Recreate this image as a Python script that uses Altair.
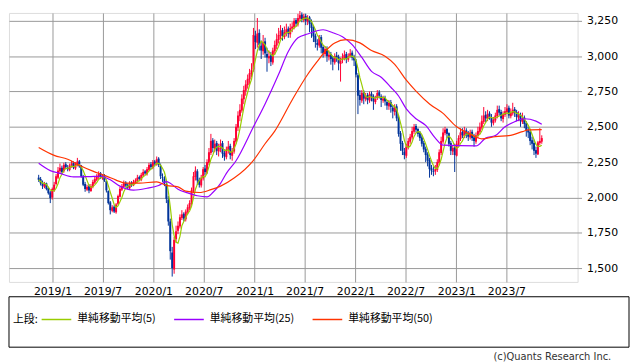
import altair as alt
import numpy as np
import pandas as pd

# ---------------- data (weekly candles) ----------------
start_date = "2018-11-12"

closes = [
    2125, 2100, 2080, 2095, 2060, 2030, 1995,
    2060, 2090, 2150, 2190, 2210,
    2180, 2230, 2215, 2200, 2225, 2240, 2210, 2235, 2255,
    2220, 2150, 2090, 2060, 2075, 2050, 2080,
    2110, 2130, 2150, 2165, 2140, 2150, 2120, 2050,
    1960, 1910, 1930, 1900, 1950,
    2010, 2060, 2080, 2100, 2085, 2070, 2100, 2090, 2110,
    2120, 2140, 2130, 2160, 2180, 2170,
    2200, 2230, 2215, 2250, 2240, 2270,
    2230, 2150, 2140, 2100, 1990,
    1830, 1620, 1500, 1700, 1760,
    1800, 1860, 1880, 1850, 1900, 1930,
    1960, 2050, 2150, 2190, 2120,
    2090, 2140, 2200, 2180,
    2250, 2320, 2400, 2350, 2380, 2330,
    2350, 2380, 2310, 2290, 2340, 2360, 2300, 2330, 2400,
    2500, 2580, 2620, 2700, 2760, 2800, 2840, 2880, 2900,
    3150,
    3100, 3160, 3080, 3040, 3100, 3020, 2990, 3000, 2960,
    3040, 3080, 3120, 3150, 3180, 3140, 3170, 3190, 3160, 3200,
    3210, 3250, 3230, 3270, 3290, 3260, 3280, 3250, 3270, 3230,
    3200, 3140, 3100, 3080, 3130, 3060, 3020, 3050, 3000, 3010,
    2980, 2960, 3000, 2990, 2950, 2970, 2990, 3010, 2980, 3000, 3020, 2990, 2970,
    2870, 2720, 2690, 2740,
    2700, 2720, 2690, 2730, 2710, 2680, 2700, 2740, 2720, 2690, 2700, 2680, 2650, 2670, 2640, 2610, 2640,
    2560, 2450, 2380, 2330, 2300, 2360,
    2400, 2430, 2470, 2500, 2480, 2450, 2420,
    2380, 2340, 2300, 2260, 2200, 2190, 2180,
    2200, 2250, 2320, 2400, 2460, 2480, 2450,
    2380, 2330, 2350, 2300, 2380,
    2420, 2460, 2440, 2470, 2450, 2430, 2460, 2420, 2400, 2440, 2470,
    2500, 2540, 2580, 2560, 2590, 2570, 2530, 2550, 2580,
    2620, 2600, 2560, 2590, 2610, 2630, 2580, 2600, 2620, 2600,
    2570, 2580, 2540, 2560, 2520, 2470,
    2460, 2400, 2380, 2330, 2310, 2390,
    2400, 2420,
]

opens = [
    2140, 2130, 2105, 2075, 2100, 2065, 2035,
    2000, 2050, 2095, 2140, 2185,
    2210, 2185, 2235, 2210, 2195, 2220, 2245, 2205, 2230,
    2255, 2225, 2145, 2095, 2055, 2080, 2045,
    2075, 2105, 2125, 2145, 2170, 2135, 2155, 2115,
    2045, 1965, 1905, 1935, 1895,
    1955, 2005, 2055, 2075, 2105, 2090, 2065, 2105, 2085,
    2105, 2115, 2145, 2125, 2155, 2185,
    2165, 2195, 2235, 2210, 2255, 2235,
    2275, 2225, 2145, 2135, 2095,
    1985, 1830, 1610, 1490, 1705,
    1765, 1795, 1855, 1885, 1845, 1895,
    1925, 1955, 2045, 2145, 2185,
    2125, 2085, 2135, 2205,
    2175, 2245, 2315, 2405, 2345, 2385,
    2325, 2345, 2385, 2315, 2285, 2335, 2365, 2295, 2325,
    2395, 2495, 2575, 2615, 2695, 2755, 2795, 2835, 2875,
    2905,
    3145, 3095, 3165, 3075, 3035, 3105, 3015, 2985, 3005,
    2955, 3035, 3075, 3115, 3145, 3185, 3135, 3165, 3195, 3155,
    3195, 3205, 3255, 3225, 3265, 3295, 3255, 3285, 3245, 3275,
    3235, 3205, 3145, 3095, 3075, 3135, 3065, 3015, 3055, 2995,
    3015, 2985, 2955, 3005, 2995, 2945, 2975, 2985, 3015, 2975, 2995, 3025, 2995,
    2965, 2865, 2725, 2685,
    2745, 2695, 2725, 2685, 2735, 2715, 2675, 2705, 2745, 2715, 2685, 2705, 2675, 2645, 2675, 2635, 2605,
    2645, 2565, 2455, 2385, 2325, 2295,
    2355, 2395, 2425, 2465, 2505, 2485, 2455,
    2425, 2385, 2345, 2305, 2265, 2205, 2185,
    2185, 2195, 2245, 2315, 2395, 2455, 2485,
    2455, 2385, 2325, 2355, 2295,
    2375, 2415, 2465, 2435, 2475, 2455, 2425, 2465, 2425, 2395, 2435,
    2465, 2495, 2535, 2585, 2555, 2595, 2565, 2525, 2545,
    2575, 2625, 2605, 2555, 2585, 2605, 2635, 2575, 2595, 2625,
    2605, 2565, 2585, 2535, 2565, 2525,
    2475, 2465, 2405, 2385, 2335, 2305,
    2385, 2395,
]

highs = [
    2160, 2145, 2120, 2110, 2105, 2075, 2045,
    2070, 2110, 2165, 2215, 2240,
    2225, 2245, 2250, 2230, 2240, 2260, 2255, 2250, 2280,
    2265, 2230, 2160, 2110, 2090, 2095, 2095,
    2125, 2145, 2165, 2185, 2180, 2160, 2165, 2120,
    2050, 1975, 1945, 1945, 1960,
    2020, 2075, 2095, 2120, 2115, 2100, 2115, 2115, 2125,
    2135, 2160, 2155, 2175, 2200, 2195,
    2215, 2245, 2250, 2265, 2265, 2290,
    2285, 2240, 2170, 2150, 2110,
    2010, 1850, 1650, 1720, 1800,
    1830, 1880, 1910, 1895, 1915, 1950,
    1980, 2070, 2180, 2220, 2200,
    2140, 2160, 2215, 2230,
    2270, 2350, 2450, 2420, 2410, 2400,
    2380, 2410, 2400, 2340, 2360, 2400, 2380, 2350, 2420,
    2520, 2610, 2660, 2730, 2790, 2830, 2870, 2910, 2950,
    3200,
    3180, 3270, 3190, 3110, 3150, 3130, 3060, 3040, 3030,
    3060, 3110, 3160, 3200, 3220, 3200, 3210, 3230, 3210, 3230,
    3240, 3270, 3270, 3300, 3320, 3310, 3300, 3300, 3290, 3285,
    3260, 3220, 3160, 3120, 3150, 3150, 3080, 3070, 3070, 3040,
    3030, 3000, 3020, 3030, 3010, 2990, 3020, 3040, 3030, 3020, 3050, 3040, 3010,
    2980, 2880, 2760, 2760,
    2760, 2740, 2740, 2750, 2750, 2730, 2720, 2760, 2760, 2730, 2720, 2720, 2690, 2690, 2690, 2650, 2660,
    2660, 2580, 2470, 2400, 2350, 2380,
    2420, 2450, 2500, 2520, 2520, 2490, 2470,
    2440, 2400, 2360, 2320, 2280, 2230, 2220,
    2230, 2270, 2340, 2430, 2490, 2500, 2490,
    2460, 2400, 2370, 2380, 2400,
    2440, 2490, 2490, 2500, 2490, 2470, 2480, 2480, 2450, 2460, 2500,
    2530, 2580, 2640, 2610, 2620, 2610, 2590, 2570, 2600,
    2650, 2650, 2620, 2610, 2640, 2660, 2650, 2630, 2670, 2640,
    2620, 2610, 2600, 2600, 2580, 2540,
    2500, 2480, 2430, 2410, 2360, 2400,
    2490, 2440,
]

lows = [
    2110, 2085, 2060, 2065, 2050, 2020, 1960,
    1985, 2040, 2085, 2130, 2170,
    2165, 2175, 2200, 2185, 2185, 2210, 2200, 2195, 2220,
    2210, 2140, 2080, 2040, 2045, 2030, 2040,
    2065, 2095, 2115, 2130, 2130, 2125, 2110, 2035,
    1950, 1880, 1895, 1890, 1885,
    1945, 2000, 2045, 2070, 2075, 2060, 2055, 2075, 2080,
    2095, 2105, 2115, 2115, 2145, 2160,
    2155, 2185, 2200, 2200, 2220, 2225,
    2215, 2130, 2110, 2080, 1960,
    1800, 1560, 1440, 1460, 1680,
    1740, 1780, 1840, 1830, 1830, 1880,
    1910, 1945, 2030, 2120, 2090,
    2070, 2070, 2120, 2160,
    2165, 2230, 2300, 2320, 2320, 2300,
    2290, 2320, 2280, 2260, 2270, 2310, 2270, 2260, 2310,
    2380, 2470, 2540, 2600, 2660, 2720, 2770, 2800, 2850,
    2890,
    3050, 3060, 3040, 2980, 3010, 2990, 2890, 2950, 2930,
    2940, 3010, 3050, 3090, 3120, 3110, 3120, 3140, 3130, 3130,
    3170, 3190, 3210, 3210, 3250, 3240, 3240, 3220, 3220, 3170,
    3130, 3100, 3060, 3040, 3060, 3020, 2990, 3000, 2960, 2970,
    2940, 2900, 2940, 2960, 2900, 2820, 2950, 2970, 2950, 2960, 2990, 2970, 2930,
    2850, 2590, 2650, 2670,
    2660, 2680, 2660, 2670, 2680, 2620, 2660, 2690, 2700, 2640, 2670, 2650, 2620, 2620, 2600, 2560, 2580,
    2540, 2430, 2330, 2300, 2270, 2280,
    2340, 2380, 2410, 2450, 2460, 2430, 2400,
    2360, 2320, 2250, 2220, 2140, 2160, 2150,
    2160, 2180, 2230, 2300, 2380, 2440, 2420,
    2360, 2300, 2300, 2180, 2290,
    2360, 2400, 2420, 2420, 2420, 2400, 2410, 2400, 2360, 2380, 2420,
    2450, 2480, 2520, 2530, 2540, 2550, 2500, 2510, 2530,
    2560, 2580, 2540, 2530, 2570, 2590, 2560, 2560, 2580, 2570,
    2540, 2540, 2500, 2520, 2490, 2430,
    2420, 2370, 2340, 2300, 2280, 2300,
    2370, 2380,
]

# moving averages (week number since start, value)
ma25_week = [0, 6, 11, 18, 27, 32, 37, 42, 49, 56, 62, 66, 68, 72, 77, 82, 87, 90, 94, 97,
             102, 111, 117, 124, 129, 134, 139, 147, 152, 157, 162, 167, 172, 177, 182, 186,
             190, 195, 200, 205, 209, 226, 231, 236, 241, 246, 251, 257, 260]
ma25_val = [2242, 2190, 2170, 2145, 2148, 2150, 2125, 2080, 2052, 2065, 2085, 2112, 2100, 2058,
            2032, 2012, 2004, 2035, 2100, 2170, 2260, 2500, 2662, 2872, 3033, 3130, 3157, 3187,
            3166, 3138, 3082, 2991, 2893, 2851, 2780, 2718, 2627, 2557, 2510, 2420, 2370, 2365,
            2420, 2438, 2500, 2536, 2557, 2540, 2518]
ma50_week = [0, 8, 15, 21, 28, 35, 40, 45, 52, 61, 66, 72, 76, 83, 89, 94, 101, 111, 117, 122,
             131, 139, 144, 148, 153, 159, 166, 172, 179, 184, 190, 195, 202, 209, 216, 222,
             229, 236, 243, 250, 253, 260]
ma50_val = [2354, 2298, 2270, 2228, 2186, 2151, 2123, 2102, 2102, 2110, 2085, 2075, 2045, 2035,
            2055, 2080, 2137, 2263, 2380, 2470, 2690, 2870, 2963, 3033, 3094, 3117, 3094, 3040,
            3000, 2942, 2830, 2753, 2662, 2595, 2500, 2455, 2415, 2431, 2438, 2466, 2478, 2480]

x_tick_months = [(2019, 1), (2019, 7), (2020, 1), (2020, 7), (2021, 1), (2021, 7),
                 (2022, 1), (2022, 7), (2023, 1), (2023, 7)]
y_ticks = [1500, 1750, 2000, 2250, 2500, 2750, 3000, 3250]

series_names = ["単純移動平均(5)", "単純移動平均(25)", "単純移動平均(50)"]
series_colors = ["#99CC00", "#9900FF", "#FF3300"]
legend_heading = "上段:"
credit_text = "(c)Quants Research Inc."
up_color = "#FF0033"
down_color = "#003399"
grid_color = "#999999"

# ---------------- tables ----------------
dates = pd.date_range(start_date, periods=len(closes), freq="7D")
candles = pd.DataFrame({"date": dates, "open": opens, "high": highs, "low": lows, "close": closes})

t0 = pd.Timestamp(start_date)
ma_df = pd.concat([
    pd.DataFrame({"date": t0 + pd.to_timedelta(np.array(ma25_week) * 7, unit="D"),
                  "value": ma25_val, "series": series_names[1]}),
    pd.DataFrame({"date": t0 + pd.to_timedelta(np.array(ma50_week) * 7, unit="D"),
                  "value": ma50_val, "series": series_names[2]}),
])

x_scale = alt.Scale(domain=[alt.DateTime(year=2018, month=7, date=27, hours=14),
                            alt.DateTime(year=2024, month=3, date=14, hours=14)])
y_scale = alt.Scale(domain=[1402, 3306], nice=False, zero=False)

x_axis = alt.Axis(values=[alt.DateTime(year=y, month=m, date=1) for y, m in x_tick_months],
                  format="%Y/%-m", formatType="time", grid=True, gridColor=grid_color,
                  gridOpacity=1, ticks=False, domain=False, labelPadding=4, labelFontSize=11,
                  labelColor="black", labelFont="DejaVu Sans", title=None, tickCount=20,
                  labelOverlap=False)
y_axis = alt.Axis(orient="right", values=y_ticks, format=",d", grid=True, gridColor=grid_color,
                  gridOpacity=1, tickColor=grid_color, tickSize=4, domain=False, labelPadding=5,
                  labelFontSize=11, labelColor="black", labelFont="DejaVu Sans", title=None,
                  tickCount=20, labelOverlap=False)

color_enc = alt.Color(
    "series:N",
    scale=alt.Scale(domain=series_names, range=series_colors),
    legend=alt.Legend(
        title=None,
        labelFont="Noto Sans CJK JP", labelFontSize=11, labelColor="black", labelOffset=5,
        symbolType="stroke", symbolSize=900, symbolStrokeWidth=1.5,
        direction="horizontal", orient="none", legendX=32, legendY=294,
        columnPadding=15, padding=0,
    ),
)

candle_color = alt.condition(alt.datum.close >= alt.datum.open, alt.value(up_color), alt.value(down_color))

base = alt.Chart(candles)
wick = base.mark_rule(strokeWidth=1).encode(
    x=alt.X("date:T", scale=x_scale, axis=x_axis),
    y=alt.Y("low:Q", scale=y_scale, axis=y_axis),
    y2="high:Q",
    color=candle_color,
)
body = base.mark_rule(strokeWidth=2).encode(
    x="date:T",
    y="open:Q",
    y2="close:Q",
    color=candle_color,
)
ma5 = base.transform_window(
    ma5="mean(close)", frame=[-4, 0], sort=[alt.SortField("date")]
).transform_calculate(series="'" + series_names[0] + "'").mark_line(strokeWidth=1.2).encode(
    x="date:T", y="ma5:Q", color=color_enc,
)
ma_long = alt.Chart(ma_df).mark_line(strokeWidth=1.2, interpolate="monotone").encode(
    x="date:T", y="value:Q", color=color_enc, detail="series:N",
)

legend_box = alt.Chart(alt.Data(values=[{}])).mark_rect(
    fill="transparent", stroke="black", strokeWidth=1
).encode(x=alt.value(0), x2=alt.value(627), y=alt.value(287), y2=alt.value(338))

heading = alt.Chart(alt.Data(values=[{}])).mark_text(
    align="left", baseline="middle", fontSize=11, color="black", font="Noto Sans CJK JP"
).encode(x=alt.value(4), y=alt.value(311), text=alt.value(legend_heading))

credit = alt.Chart(alt.Data(values=[{}])).mark_text(
    align="right", baseline="middle", fontSize=10, color="#333333", font="DejaVu Sans"
).encode(x=alt.value(609), y=alt.value(348), text=alt.value(credit_text))

chart = alt.layer(wick, body, ma5, ma_long, legend_box, heading, credit).properties(
    width=575, height=272, padding=0
).configure_view(stroke=grid_color, strokeWidth=1).configure(background="white")

chart.save("out.html", embed_options={"renderer": "svg", "actions": False})
